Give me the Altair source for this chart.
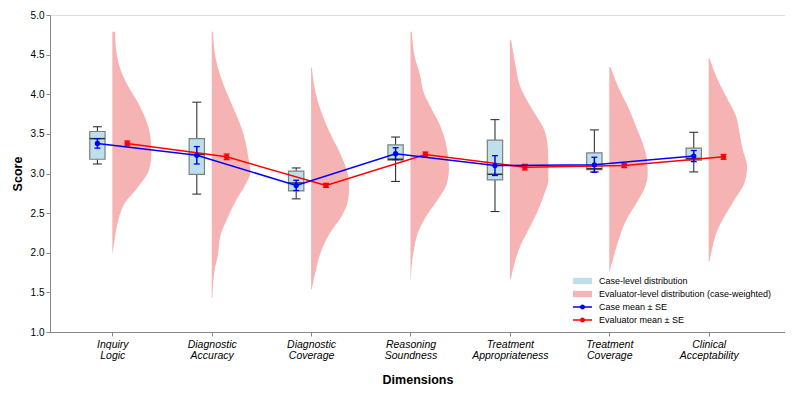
import altair as alt
import pandas as pd

# ---------------- data ----------------
dims = ["Inquiry Logic", "Diagnostic Accuracy", "Diagnostic Coverage",
        "Reasoning Soundness", "Treatment Appropriateness",
        "Treatment Coverage", "Clinical Acceptability"]

case_mean = [3.38, 3.23, 2.85, 3.25, 3.10, 3.11, 3.22]
case_se = [0.06, 0.11, 0.065, 0.075, 0.125, 0.095, 0.07]
eval_mean = [3.38, 3.21, 2.85, 3.24, 3.08, 3.10, 3.21]
eval_se = [0.03, 0.035, 0.025, 0.03, 0.035, 0.025, 0.03]

box_lo = [3.12, 2.74, 2.68, 2.90, 2.52, 3.02, 3.02]
box_q1 = [3.18, 2.99, 2.78, 3.17, 2.92, 3.05, 3.17]
box_med = [3.44, 3.24, 2.88, 3.18, 2.99, 3.06, 3.19]
box_q3 = [3.53, 3.44, 3.03, 3.36, 3.42, 3.26, 3.32]
box_hi = [3.59, 3.90, 3.07, 3.46, 3.68, 3.55, 3.52]

# evaluator-level (case-weighted) density profiles: score grid and relative density
violin_scores = [
    [4.79, 4.52, 4.31, 4.10, 3.89, 3.68, 3.47, 3.26, 3.05, 2.83, 2.63, 2.41, 2.20, 1.99],
    [4.79, 4.45, 4.03, 3.82, 3.61, 3.40, 3.19, 3.02, 2.86, 2.65, 2.44, 2.23, 1.93, 1.81, 1.43],
    [4.34, 4.01, 3.76, 3.51, 3.26, 3.05, 2.83, 2.67, 2.46, 2.25, 2.04, 1.83, 1.54],
    [4.79, 4.45, 4.24, 4.03, 3.82, 3.61, 3.40, 3.19, 3.07, 2.86, 2.65, 2.44, 2.27, 2.01, 1.66],
    [4.68, 4.39, 4.10, 3.89, 3.72, 3.55, 3.34, 3.13, 2.92, 2.71, 2.50, 2.29, 2.08, 1.87, 1.67],
    [4.34, 4.10, 3.80, 3.59, 3.38, 3.17, 3.00, 2.83, 2.62, 2.41, 2.20, 1.99, 1.76],
    [4.45, 4.22, 3.93, 3.72, 3.51, 3.30, 3.09, 2.88, 2.67, 2.46, 2.25, 2.04, 1.89],
]
violin_density = [
    [2.7, 4.3, 8.3, 16, 26, 33.7, 38.3, 39.3, 37, 26, 12.7, 6, 2.7, 0.3],
    [1.3, 4, 14.7, 22, 29, 34, 37, 39, 34, 24, 16, 9, 5.7, 3.3, 0.7],
    [0.7, 4.7, 10.7, 19, 29, 35.7, 38.3, 37.3, 30.7, 19, 10.7, 5.7, 0.7],
    [1.3, 4.7, 9.7, 13, 21, 29.7, 35.3, 38, 38.7, 36.3, 26.3, 14.7, 8, 3, 0.3],
    [1.3, 5.3, 10.3, 18.7, 27, 34.7, 38, 38.7, 38.7, 33.7, 27, 18.7, 10.3, 4.7, 1],
    [1.3, 8.7, 20.3, 27, 33.7, 38, 38.7, 36, 27, 17, 10.3, 5.3, 0.3],
    [1, 7.7, 19.3, 27.7, 31, 34.3, 38.7, 36, 26, 16, 7.7, 3.3, 0.7],
]

legend_labels = ["Case-level distribution",
                 "Evaluator-level distribution (case-weighted)",
                 "Case mean \u00b1 SE",
                 "Evaluator mean \u00b1 SE"]

# ---------------- styling ----------------
FONT = "Liberation Sans"
BOX_OFF, EVAL_OFF = -0.15, 0.15
BOX_HW, CAP_HW, ECAP_HW = 0.077, 0.045, 0.03
VIOLIN_W = 0.4 / 40.0
PINK, LBLUE = "#F6B3B3", "#BDE0EB"

# ---------------- tables ----------------
n = len(dims)
summ = pd.DataFrame({
    "dim": dims, "i": list(range(n)),
    "cm": case_mean, "cse": case_se, "em": eval_mean, "ese": eval_se,
    "lo": box_lo, "q1": box_q1, "med": box_med, "q3": box_q3, "hi": box_hi,
})
summ["bx"] = summ["i"] + BOX_OFF
summ["bx0"] = summ["bx"] - BOX_HW
summ["bx1"] = summ["bx"] + BOX_HW
summ["cx0"] = summ["bx"] - CAP_HW
summ["cx1"] = summ["bx"] + CAP_HW
summ["ex"] = summ["i"] + EVAL_OFF
summ["c_lo"] = summ["cm"] - summ["cse"]
summ["c_hi"] = summ["cm"] + summ["cse"]
summ["e_lo"] = summ["em"] - summ["ese"]
summ["e_hi"] = summ["em"] + summ["ese"]
summ["bex0"] = summ["bx"] - ECAP_HW
summ["bex1"] = summ["bx"] + ECAP_HW
summ["eex0"] = summ["ex"] - ECAP_HW
summ["eex1"] = summ["ex"] + ECAP_HW

rows = []
for k, (sc, de) in enumerate(zip(violin_scores, violin_density)):
    for s, d in zip(sc, de):
        rows.append({"dim": dims[k], "score": s, "base": float(k),
                     "edge": k + d * VIOLIN_W})
vdf = pd.DataFrame(rows)

legdf = pd.DataFrame({"label": legend_labels, "px": [0.0] * 4, "py": [0.0] * 4})

label_arr = "[" + ",".join(
    "[" + ",".join("'" + w + "'" for w in d.split(" ")) + "]" for d in dims
) + "][round(datum.value)]"

xs = alt.Scale(domain=[-0.627, 6.768], nice=False, zero=False)
ys = alt.Scale(domain=[1, 5], nice=False, zero=False)


def X(f, **kw):
    return alt.X(f, type="quantitative", scale=xs, title="Dimensions",
                 axis=alt.Axis(values=list(range(n)), labelExpr=label_arr,
                               labelFontStyle="italic", labelFontSize=10.5,
                               labelLineHeight=11.5, labelPadding=3,
                               titleFontSize=12.5, titleFontWeight="bold",
                               titlePadding=12, tickSize=4, grid=False), **kw)


def Y(f, **kw):
    return alt.Y(f, type="quantitative", scale=ys, title="Score",
                 axis=alt.Axis(values=[1 + 0.5 * k for k in range(9)], format=".1f",
                               labelFontSize=10, labelPadding=2, tickSize=4,
                               titleFontSize=12.5, titleFontWeight="bold",
                               titlePadding=6, grid=False), **kw)


base = alt.Chart(summ)

violin = alt.Chart(vdf).mark_area(orient="horizontal", color=PINK, opacity=1,
                                  interpolate="monotone").encode(
    y=Y("score", stack=None), x=X("base", stack=None), x2="edge", detail="dim:N")

whisk_lo = base.mark_rule(color="#333333", strokeWidth=1.1).encode(x=X("bx"), y=Y("lo"), y2="q1")
whisk_hi = base.mark_rule(color="#333333", strokeWidth=1.1).encode(x=X("bx"), y=Y("q3"), y2="hi")
cap_lo = base.mark_rule(color="#333333", strokeWidth=1.1).encode(x=X("cx0"), x2="cx1", y=Y("lo"))
cap_hi = base.mark_rule(color="#333333", strokeWidth=1.1).encode(x=X("cx0"), x2="cx1", y=Y("hi"))
box = base.mark_rect(fill=LBLUE, stroke="#7f7f7f", strokeWidth=1.2).encode(
    x=X("bx0"), x2="bx1", y=Y("q1"), y2="q3")
median = base.mark_rule(color="#333333", strokeWidth=1.5).encode(x=X("bx0"), x2="bx1", y=Y("med"))


def series(xf, mf, lof, hif, x0f, x1f, color):
    line = base.mark_line(color=color, strokeWidth=1.5).encode(x=X(xf), y=Y(mf), order="i:Q")
    bar = base.mark_rule(color=color, strokeWidth=1.5).encode(x=X(xf), y=Y(lof), y2=hif)
    c1 = base.mark_rule(color=color, strokeWidth=1.3).encode(x=X(x0f), x2=x1f, y=Y(lof))
    c2 = base.mark_rule(color=color, strokeWidth=1.3).encode(x=X(x0f), x2=x1f, y=Y(hif))
    pt = base.mark_circle(color=color, size=28, opacity=1).encode(x=X(xf), y=Y(mf))
    return [line, bar, c1, c2, pt]


red = series("ex", "em", "e_lo", "e_hi", "eex0", "eex1", "red")
blue = series("bx", "cm", "c_lo", "c_hi", "bex0", "bex1", "blue")

# legend symbols (custom paths, drawn wider than the nominal symbol box)
rect_path = "M-1.9,-0.63H1.9V0.63H-1.9Z"
line_dot = ("M-1.9,-0.15H1.9V0.15H-1.9Z "
            "M-0.5,0A0.5,0.5,0,1,1,0.5,0A0.5,0.5,0,1,1,-0.5,0Z")
leg = alt.Legend(title=None, orient="none", legendX=527.5, legendY=261,
                 symbolSize=100, symbolStrokeWidth=0, labelFontSize=9,
                 labelOffset=11.5, padding=0, rowPadding=3, labelLimit=400,
                 labelFont=FONT, symbolOpacity=1)
legend_layer = alt.Chart(legdf).mark_point(filled=True, clip=True, opacity=1).encode(
    x=X("px"), y=Y("py"),
    color=alt.Color("label:N", scale=alt.Scale(domain=legend_labels,
                                               range=[LBLUE, PINK, "blue", "red"]), legend=leg),
    shape=alt.Shape("label:N", scale=alt.Scale(domain=legend_labels,
                                               range=[rect_path, rect_path, line_dot, line_dot]), legend=leg),
)

chart = alt.layer(
    violin, whisk_lo, whisk_hi, cap_lo, cap_hi, box, median, *red, *blue, legend_layer
).properties(
    width=735, height=317,
    padding={"left": 3, "top": 2, "right": 0, "bottom": 0},
).configure_view(stroke=None).configure_axis(
    labelFont=FONT, titleFont=FONT, domainColor="black", tickColor="black",
    labelColor="black", titleColor="black", domainWidth=1, tickWidth=1,
).configure(background="white")

chart.save("out.html", embed_options={"renderer": "svg", "actions": False})
